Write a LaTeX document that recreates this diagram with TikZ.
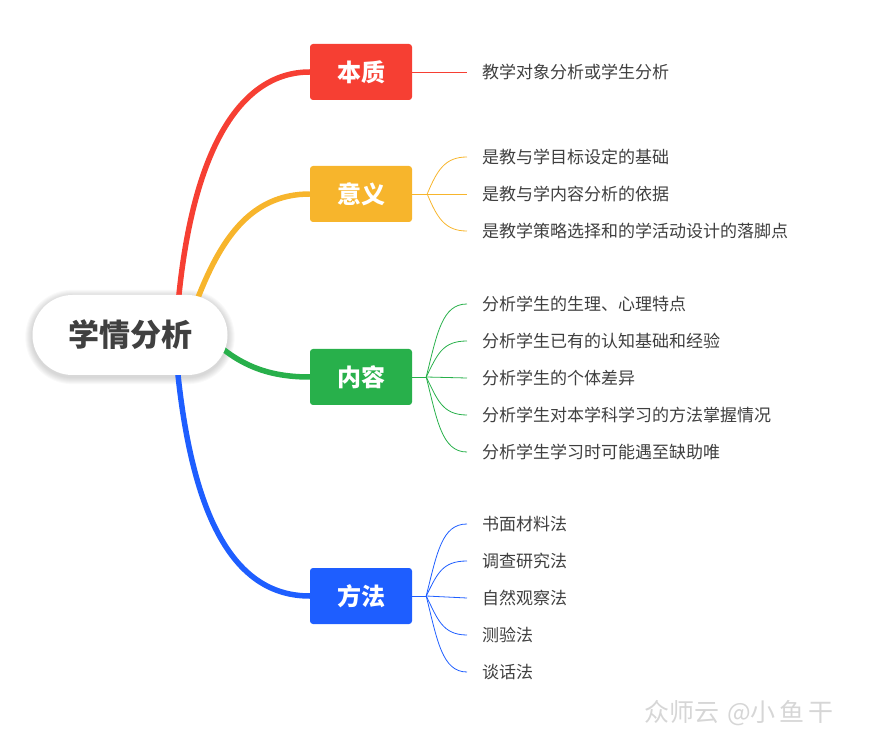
\documentclass[tikz,border=0pt]{standalone}
\usepackage{fontspec}
\setmainfont{Noto Sans CJK SC}
\usetikzlibrary{backgrounds,calc}
\definecolor{cred}{HTML}{F63F33}
\definecolor{cyel}{HTML}{F7B52C}
\definecolor{cgrn}{HTML}{28B04B}
\definecolor{cblu}{HTML}{1E5EFF}
\definecolor{txtgray}{HTML}{3F3F3F}
\definecolor{rootgray}{HTML}{404040}
\definecolor{wmgray}{HTML}{D6D6D6}
\begin{document}
\begin{tikzpicture}[x=1pt,y=-1pt,
  topic/.style={rounded corners=3pt, minimum width=102pt, minimum height=56pt, text=white, font=\fontsize{24}{24}\selectfont\bfseries, inner sep=0pt},
  leaf/.style={anchor=west, text=txtgray, font=\fontsize{17}{17}\selectfont, inner sep=0pt},
  mainline/.style={line width=5.5pt},
  subline/.style={line width=0.8pt}]
\useasboundingbox (0,0) rectangle (871,735);
% root
\node[fill=white, rounded corners=39.9pt, minimum width=195pt, minimum height=80pt, inner sep=0pt,
  font=\fontsize{31}{31}\selectfont\bfseries, text=rootgray] (root) at (130,335) {学情分析};
% topics
\node[topic, fill=cred] (t1) at (361,72) {本质};
\node[topic, fill=cyel] (t2) at (361,194) {意义};
\node[topic, fill=cgrn] (t3) at (361,377) {内容};
\node[topic, fill=cblu] (t4) at (361,596) {方法};
% leaves
\node[leaf] (a1) at (482,72) {教学对象分析或学生分析};
\node[leaf] (b1) at (482,157) {是教与学目标设定的基础};
\node[leaf] (b2) at (482,194) {是教与学内容分析的依据};
\node[leaf] (b3) at (482,231) {是教学策略选择和的学活动设计的落脚点};
\node[leaf] (c1) at (482,304) {分析学生的生理、心理特点};
\node[leaf] (c2) at (482,341) {分析学生已有的认知基础和经验};
\node[leaf] (c3) at (482,378) {分析学生的个体差异};
\node[leaf] (c4) at (482,415) {分析学生对本学科学习的方法掌握情况};
\node[leaf] (c5) at (482,452) {分析学生学习时可能遇至缺助唯};
\node[leaf] (d1) at (482,524) {书面材料法};
\node[leaf] (d2) at (482,561) {调查研究法};
\node[leaf] (d3) at (482,598) {自然观察法};
\node[leaf] (d4) at (482,635) {测验法};
\node[leaf] (d5) at (482,672) {谈话法};
% watermark
\node[anchor=west, text=wmgray, inner sep=0pt, font=\fontsize{25}{25}\selectfont] (wm) at (644,713) {众师云\hspace{8pt}@小\hspace{4pt}鱼\hspace{4pt}干};
\begin{pgfonlayer}{background}
  % root shadow
  \foreach \i in {1,...,7}{
    \fill[black, opacity=0.022, rounded corners={40pt+\i pt}]
      ($(root.south west)+(-\i,\i+2)$) rectangle ($(root.north east)+(\i,-\i+2)$);
  }
  % main branches
  \draw[mainline, cred] ($(root.north)+(48,10)$) .. controls (192,150) and (240,72) .. (t1.west);
  \draw[mainline, cyel] ($(root.north)+(66,8)$) .. controls (220,240) and (250,194) .. (t2.west);
  \draw[mainline, cgrn] ($(root.east)+(-12,8)$) .. controls (244,368) and (273,377) .. (t3.west);
  \draw[mainline, cblu] ($(root.south)+(47,-10)$) .. controls (192,520) and (235,596) .. (t4.west);
\end{pgfonlayer}
% sub connectors
\draw[subline, cred] (t1.east) -- ([xshift=-15pt]a1.west);
\coordinate (f2) at ([xshift=15pt]t2.east);
\draw[subline, cyel] (t2.east) -- (f2);
\draw[subline, cyel] (f2) .. controls +(10,-24) and +(-22,0) .. ([xshift=-15pt]b1.west);
\draw[subline, cyel] (f2) -- ([xshift=-15pt]b2.west);
\draw[subline, cyel] (f2) .. controls +(10,24) and +(-22,0) .. ([xshift=-15pt]b3.west);
\coordinate (f3) at ([xshift=14pt]t3.east);
\draw[subline, cgrn] (t3.east) -- (f3);
\draw[subline, cgrn] (f3) .. controls +(11,-44) and +(-25,0) .. ([xshift=-15pt]c1.west);
\draw[subline, cgrn] (f3) .. controls +(11,-22) and +(-25,0) .. ([xshift=-15pt]c2.west);
\draw[subline, cgrn] (f3) -- ([xshift=-15pt]c3.west);
\draw[subline, cgrn] (f3) .. controls +(11,22) and +(-25,0) .. ([xshift=-15pt]c4.west);
\draw[subline, cgrn] (f3) .. controls +(11,44) and +(-25,0) .. ([xshift=-15pt]c5.west);
\coordinate (f4) at ([xshift=14pt]t4.east);
\draw[subline, cblu] (t4.east) -- (f4);
\draw[subline, cblu] (f4) .. controls +(11,-44) and +(-25,0) .. ([xshift=-15pt]d1.west);
\draw[subline, cblu] (f4) .. controls +(11,-22) and +(-25,0) .. ([xshift=-15pt]d2.west);
\draw[subline, cblu] (f4) -- ([xshift=-15pt]d3.west);
\draw[subline, cblu] (f4) .. controls +(11,22) and +(-25,0) .. ([xshift=-15pt]d4.west);
\draw[subline, cblu] (f4) .. controls +(11,44) and +(-25,0) .. ([xshift=-15pt]d5.west);
\end{tikzpicture}
\end{document}
